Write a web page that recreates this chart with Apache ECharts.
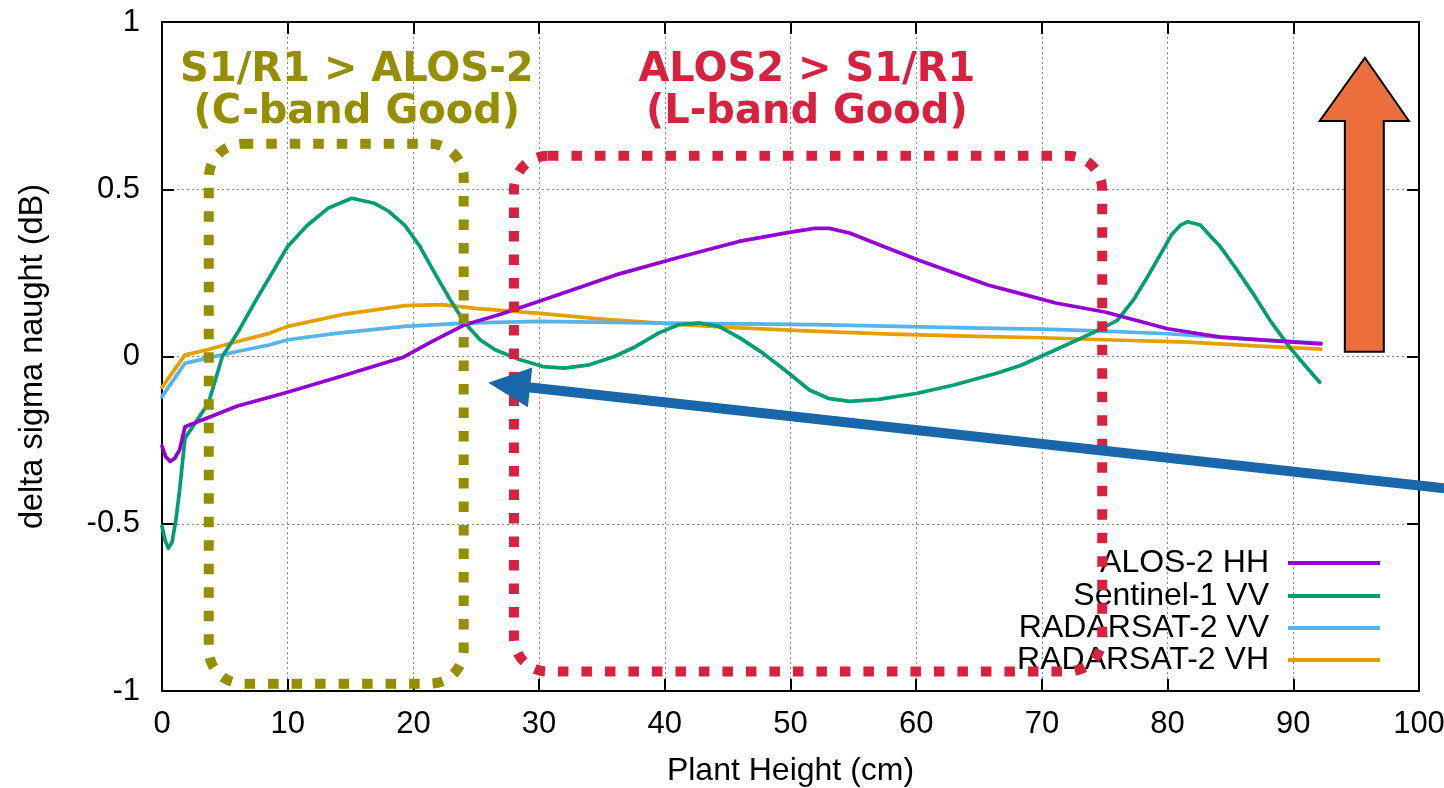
<!DOCTYPE html>
<html>
<head>
<meta charset="utf-8">
<script src="https://cdn.jsdelivr.net/npm/echarts@6.0.0/dist/echarts.min.js"></script>
<style>
  html, body { margin: 0; padding: 0; background: #ffffff; }
  #chart { width: 1444px; height: 788px; }
</style>
</head>
<body>
<div id="chart"></div>
<script>
// Plant height (cm) vs. delta sigma naught (dB) for each sensor: [height, dB]
const alos2HH = [
  [0, -0.268], [0.3, -0.300], [0.65, -0.314], [1.0, -0.305], [1.4, -0.279], [1.83, -0.21],
  [3.6, -0.184], [6, -0.148], [9.7, -0.110], [14, -0.062], [19.2, -0.002], [21.5, 0.045],
  [24.1, 0.095], [27, 0.127], [30.3, 0.169], [36.1, 0.244], [41, 0.295], [45.9, 0.344],
  [50, 0.372], [51.9, 0.383], [53.1, 0.383], [54.7, 0.369], [57, 0.335], [60.1, 0.289],
  [65.7, 0.214], [68.3, 0.188], [71.1, 0.160], [75, 0.133], [80, 0.083], [84.2, 0.058],
  [88, 0.048], [92.2, 0.038]
];
const sentinel1VV = [
  [0, -0.508], [0.25, -0.55], [0.5, -0.573], [0.8, -0.555], [1.1, -0.49], [1.4, -0.40],
  [1.83, -0.244], [2.8, -0.19], [3.7, -0.139], [4.8, 0.0], [6, 0.07], [7.5, 0.17],
  [10, 0.329], [11.5, 0.39], [13.2, 0.443], [15.1, 0.473], [16.9, 0.458], [18, 0.435],
  [19.3, 0.393], [20.5, 0.33], [21.7, 0.249], [23, 0.165], [24.1, 0.10], [25.3, 0.05],
  [26.5, 0.02], [28.5, -0.01], [30.3, -0.03], [32, -0.035], [34, -0.025], [36, 0.0],
  [37.7, 0.03], [39.5, 0.07], [41.1, 0.095], [42.7, 0.10], [44.3, 0.09], [46, 0.055],
  [47.8, 0.01], [49.7, -0.045], [51.5, -0.10], [53, -0.125], [54.7, -0.134], [57, -0.128],
  [60.1, -0.11], [63, -0.085], [66.4, -0.05], [68.3, -0.027], [71.1, 0.02], [74, 0.07],
  [76, 0.108], [77.3, 0.17], [78.4, 0.238], [79.5, 0.31], [80.3, 0.363], [81, 0.392],
  [81.6, 0.403], [82.6, 0.393], [83.4, 0.36], [84.2, 0.328], [85.5, 0.26], [86.8, 0.188],
  [88.2, 0.105], [89.7, 0.028], [91, -0.03], [92.1, -0.077]
];
const radarsat2VV = [
  [0, -0.12], [1.83, -0.02], [3.6, -0.005], [6, 0.015], [8.6, 0.035], [10, 0.05],
  [14, 0.07], [19.3, 0.09], [24.1, 0.10], [30, 0.105], [40, 0.10], [52, 0.095],
  [65, 0.085], [70, 0.082], [75, 0.076], [80, 0.068], [84.2, 0.058], [88, 0.048], [92.2, 0.040]
];
const radarsat2VH = [
  [0, -0.092], [1.83, 0.005], [3.6, 0.02], [6, 0.045], [8.6, 0.07], [10, 0.09],
  [14.3, 0.125], [19.3, 0.152], [22.3, 0.155], [24.9, 0.144], [30.3, 0.128], [35, 0.112],
  [39.6, 0.10], [45, 0.087], [52.2, 0.075], [58, 0.067], [64.8, 0.06], [70, 0.056],
  [75, 0.05], [81.6, 0.043], [87, 0.032], [92.2, 0.022]
];

const seriesNames = ['ALOS-2 HH', 'Sentinel-1 VV', 'RADARSAT-2 VV', 'RADARSAT-2 VH'];
const seriesColors = ['#9400D3', '#009E73', '#56B4E9', '#E69F00'];
const seriesData = [alos2HH, sentinel1VV, radarsat2VV, radarsat2VH];

const xRange = { min: 0, max: 100, interval: 10 };
const yRange = { min: -1, max: 1, interval: 0.5 };

// Callout boxes and texts, in data units
const cBandBox = { x0: 3.72, x1: 24.0, y0: 0.636, y1: -0.978 };
const lBandBox = { x0: 28.0, x1: 74.8, y0: 0.60, y1: -0.942 };
const cBandText = { x: 15.5, lines: ['S1/R1 > ALOS-2', '(C-band Good)'], ys: [0.854, 0.728] };
const lBandText = { x: 51.3, lines: ['ALOS2 > S1/R1', '(L-band Good)'], ys: [0.854, 0.728] };

const FONT = '"Liberation Sans", Arial, Helvetica, sans-serif';
const OLIVE = '#958E00';
const CRIMSON = '#D8213F';

const chart = echarts.init(document.getElementById('chart'), null, { renderer: 'canvas' });

const axisLine = { show: true, onZero: false, lineStyle: { color: '#000', width: 2 } };
const axisTick = { show: true, inside: true, length: 12, lineStyle: { color: '#000', width: 2 } };
const splitLine = { show: true, lineStyle: { color: '#8a8a8a', width: 1, type: [2, 3] } };

const legendRowsY = [563, 596, 628, 660];

const option = {
  animation: false,
  backgroundColor: '#ffffff',
  grid: { left: 162, right: 25, top: 22, bottom: 97, containLabel: false, outerBoundsMode: 'none' },
  legend: seriesNames.map((n, i) => ({
    data: [n],
    orient: 'vertical',
    right: 64,
    top: legendRowsY[i] - 16,
    padding: 0,
    align: 'right',
    icon: 'rect',
    itemWidth: 92,
    itemHeight: 4,
    selectedMode: false,
    textStyle: { fontFamily: FONT, fontSize: 32, color: '#000', lineHeight: 32, padding: [0, 14, 0, 0] }
  })),
  xAxis: [
    {
      type: 'value', position: 'bottom', ...xRange,
      name: 'Plant Height (cm)', nameLocation: 'middle', nameGap: 64,
      nameTextStyle: { fontFamily: FONT, fontSize: 32, color: '#000' },
      axisLine, axisTick, splitLine,
      axisLabel: { fontFamily: FONT, fontSize: 31, color: '#000', margin: 18 }
    },
    {
      type: 'value', position: 'top', ...xRange,
      axisLine, axisTick, splitLine: { show: false }, axisLabel: { show: false }
    }
  ],
  yAxis: [
    {
      type: 'value', position: 'left', ...yRange,
      name: 'delta sigma naught (dB)', nameLocation: 'middle', nameGap: 112, nameRotate: 90,
      nameTextStyle: { fontFamily: FONT, fontSize: 32.5, color: '#000' },
      axisLine, axisTick, splitLine,
      axisLabel: { fontFamily: FONT, fontSize: 31, color: '#000', margin: 22 }
    },
    {
      type: 'value', position: 'right', ...yRange,
      axisLine, axisTick, splitLine: { show: false }, axisLabel: { show: false }
    }
  ],
  series: seriesNames.map((n, i) => ({
    name: n,
    type: 'line',
    xAxisIndex: 0,
    yAxisIndex: 0,
    data: seriesData[i],
    symbol: 'none',
    smooth: false,
    lineStyle: { color: seriesColors[i], width: 3.7, join: 'round', cap: 'round' },
    itemStyle: { color: seriesColors[i] },
    z: 3 + (3 - i)
  }))
};

chart.setOption(option);

// Callouts placed through the grid's own coordinate conversion
const px = p => chart.convertToPixel({ seriesIndex: 0 }, p);

function dottedBox(box, color) {
  const a = px([box.x0, box.y0]);
  const b = px([box.x1, box.y1]);
  return {
    type: 'rect', z: 50,
    shape: { x: a[0], y: a[1], width: b[0] - a[0], height: b[1] - a[1], r: 34 },
    style: { fill: 'none', stroke: color, lineWidth: 10, lineDash: [10.5, 13], lineCap: 'butt' }
  };
}
function labelLines(t, color) {
  return t.lines.map((s, k) => {
    const p = px([t.x, t.ys[k]]);
    return {
      type: 'text', z: 50, x: p[0], y: p[1],
      style: {
        text: s, fill: color, font: 'bold 40px "DejaVu Sans", sans-serif',
        textAlign: 'center', textVerticalAlign: 'middle'
      }
    };
  });
}

// Thick blue pointer aimed at the crossing of the curves
const tail = px([103, -0.398]);
const tip = px([25.96, -0.0786]);
const dx = tail[0] - tip[0], dy = tail[1] - tip[1];
const len = Math.hypot(dx, dy);
const ux = dx / len, uy = dy / len;
const headLen = 42, headHalf = 20;
const base = [tip[0] + ux * headLen, tip[1] + uy * headLen];

// Orange upward arrow (outlined)
const up = {
  tip: px([95.7, 0.893]),
  headL: px([92.1, 0.704]), headR: px([99.2, 0.704]),
  shaftL: px([94.1, 0.704]), shaftR: px([97.2, 0.704]),
  bottom: px([0, 0.014])
};

chart.setOption({
  graphic: [
    dottedBox(cBandBox, OLIVE),
    dottedBox(lBandBox, CRIMSON),
    ...labelLines(cBandText, OLIVE),
    ...labelLines(lBandText, CRIMSON),
    {
      type: 'line', z: 60,
      shape: { x1: tail[0], y1: tail[1], x2: base[0] - ux * 2, y2: base[1] - uy * 2 },
      style: { stroke: '#1A66AA', lineWidth: 10 }
    },
    {
      type: 'polygon', z: 60,
      shape: { points: [
        tip,
        [base[0] - uy * headHalf, base[1] + ux * headHalf],
        [base[0] + uy * headHalf, base[1] - ux * headHalf]
      ] },
      style: { fill: '#1A66AA' }
    },
    {
      type: 'polygon', z: 60,
      shape: { points: [
        up.tip, up.headR, [up.shaftR[0], up.headR[1]], [up.shaftR[0], up.bottom[1]],
        [up.shaftL[0], up.bottom[1]], [up.shaftL[0], up.headL[1]], up.headL
      ] },
      style: { fill: '#EC6E3D', stroke: '#000', lineWidth: 2, lineJoin: 'miter' }
    }
  ]
});
</script>
</body>
</html>
